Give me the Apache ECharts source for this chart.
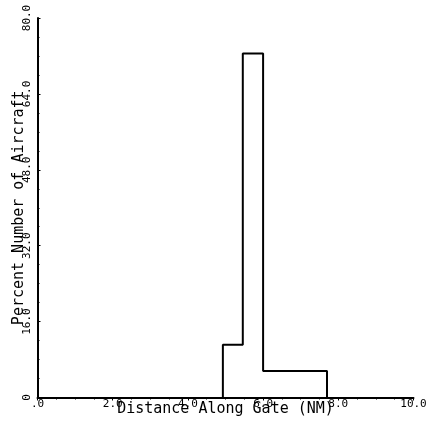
<!DOCTYPE html>
<html><head><meta charset="utf-8">
<script src="https://cdn.jsdelivr.net/npm/echarts@6/dist/echarts.min.js"></script>
<style>html,body{margin:0;padding:0;background:#fff}#c{width:428px;height:433px}</style>
</head><body><div id="c"></div>
<script>
// Histogram bin edges (NM) and percent values
const binEdges = [4.93, 5.46, 6.0, 7.7];
const binValues = [11.1, 72.5, 5.6];
const xTickValues = [0, 2, 4, 6, 8, 10];
const yTickValues = [0, 16, 32, 48, 64, 80];
const xTitle = 'Distance Along Gate (NM)';
const yTitle = 'Percent Number of Aircraft';

// Outline of the histogram (step outline)
const outline = [[binEdges[0], 0]];
for (let i = 0; i < binValues.length; i++) {
  outline.push([binEdges[i], binValues[i]]);
  outline.push([binEdges[i + 1], binValues[i]]);
}
outline.push([binEdges[binEdges.length - 1], 0]);

const mono = 'DejaVu Sans Mono';
const chart = echarts.init(document.getElementById('c'), null, {renderer: 'canvas'});
chart.setOption({
  animation: false,
  backgroundColor: '#fff',
  grid: {left: 37.5, right: 14.5, top: 18, bottom: 35.5, containLabel: false, outerBoundsMode: 'none'},
  xAxis: {
    type: 'value', min: xTickValues[0], max: xTickValues[xTickValues.length - 1], interval: 2,
    name: xTitle, nameLocation: 'middle', nameGap: 4, nameMoveOverlap: false,
    nameTextStyle: {fontFamily: mono, fontSize: 15, color: '#000', verticalAlign: 'top'},
    axisLine: {show: true, onZero: false, lineStyle: {color: '#000', width: 2}},
    axisTick: {show: true, length: 3, lineStyle: {color: '#000', width: 1}},
    minorTick: {show: true, splitNumber: 4, length: 2, lineStyle: {color: '#000'}},
    splitLine: {show: false},
    axisLabel: {
      margin: 1, fontFamily: mono, fontSize: 11, color: '#000',
      formatter: v => v === 0 ? '.0' : v.toFixed(1)
    }
  },
  yAxis: {
    type: 'value', min: yTickValues[0], max: yTickValues[yTickValues.length - 1], interval: 16,
    name: yTitle, nameLocation: 'middle', nameGap: 11, nameRotate: 90, nameMoveOverlap: false,
    nameTextStyle: {fontFamily: mono, fontSize: 15, color: '#000'},
    axisLine: {show: true, onZero: false, lineStyle: {color: '#000', width: 2}},
    axisTick: {show: true, inside: true, length: 3, lineStyle: {color: '#000', width: 1}},
    minorTick: {show: true, splitNumber: 4, length: 2, lineStyle: {color: '#000'}},
    splitLine: {show: false},
    axisLabel: {
      margin: 5, rotate: 90, fontFamily: mono, fontSize: 11, color: '#000',
      formatter: v => v === 0 ? '0' : v.toFixed(1)
    }
  },
  series: [{
    type: 'line', data: outline, symbol: 'none', silent: true,
    lineStyle: {color: '#000', width: 2}
  }]
});
</script></body></html>
